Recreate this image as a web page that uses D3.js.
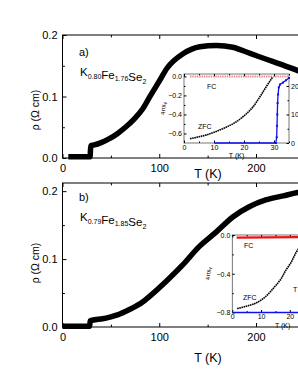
<!DOCTYPE html>
<html>
<head>
<meta charset="utf-8">
<script src="https://cdn.jsdelivr.net/npm/d3@7"></script>
<style>
  body { margin: 0; background: #fff; }
  svg { display: block; font-family: "Liberation Sans", Arial, sans-serif; }
  .axis text { fill: #000; }
  .axis line { stroke: #000; }
</style>
</head>
<body>
<svg width="298" height="385"></svg>
<script>
"use strict";

// panel a: K0.80Fe1.76Se2, resistivity vs T
var tempA = [6, 15, 25, 28.5, 29.2, 32, 40, 48, 57, 65, 75, 83, 90, 100, 108, 125, 142, 159, 176, 194, 210, 228, 245, 270, 300];
var rhoA = [0.002, 0.002, 0.002, 0.002, 0.020, 0.021, 0.025, 0.031, 0.040, 0.050, 0.065, 0.080, 0.099, 0.125, 0.146, 0.170, 0.181, 0.183, 0.180, 0.170, 0.161, 0.151, 0.141, 0.128, 0.115];

// panel b: K0.79Fe1.85Se2
var tempB = [0, 10, 20, 28, 28.7, 35, 45, 55, 65, 75, 85, 90, 107, 124, 141, 159, 176, 193, 210, 228, 243, 270, 300];
var rhoB = [0.001, 0.001, 0.001, 0.001, 0.009, 0.011, 0.013, 0.017, 0.023, 0.030, 0.039, 0.045, 0.067, 0.091, 0.118, 0.140, 0.162, 0.177, 0.187, 0.193, 0.198, 0.203, 0.207];

// inset a: susceptibility (left) and resistivity (right)
var zfcTA = [2, 5, 8, 11, 14, 17, 20, 23, 26, 28, 29.5];
var zfcA = [-0.655, -0.635, -0.61, -0.575, -0.535, -0.485, -0.415, -0.32, -0.18, -0.08, -0.01];
var fcTA = [2, 35];
var fcA = [0, 0];
var resTA = [10, 20, 30.6, 30.9, 31.0, 31.1, 31.2, 31.35, 31.6, 32, 33, 34, 35];
var resA = [0, 0, 0, 2, 6, 10, 14, 17, 19.5, 20.5, 21.2, 22, 22.8];

// inset b
var zfcTB = [1.7, 4.9, 8.4, 11.8, 14.7, 17, 18.7, 20.5, 22, 24, 26];
var zfcB = [-0.76, -0.735, -0.70, -0.63, -0.535, -0.45, -0.36, -0.28, -0.19, -0.10, -0.03];
var fcTB = [1.5, 35];
var fcB = [-0.027, -0.02];
var resTB = [0.5, 35];
var resB = [0, 0];

var xTicks = [0, 100, 200, 300], xMinor = [50, 150, 250];
var yTicks = [0, 0.1, 0.2], yMinor = [0.05, 0.15];

var svg = d3.select("svg");

function zip(xs, ys) {
    return xs.map(function (x, i) { return [x, ys[i]]; });
}

function axisPair(g, axisFn, scale, major, minor, size, fmt, pad, fontSize, transform) {
    var a = g.append("g").attr("class", "axis").attr("transform", transform)
        .call(axisFn(scale).tickValues(major).tickSize(-size).tickPadding(pad)
            .tickFormat(fmt));
    a.select(".domain").remove();
    a.selectAll("text").style("font-size", fontSize + "px");
    var m = g.append("g").attr("class", "axis").attr("transform", transform)
        .call(axisFn(scale).tickValues(minor).tickSize(-size * 0.6).tickFormat(""));
    m.select(".domain").remove();
    return a;
}

function drawPanel(cfg) {
    var x = d3.scaleLinear().domain([0, 300]).range([62.5, 352.75]);
    var y = d3.scaleLinear().domain(cfg.yDomain).range([cfg.bottom, cfg.top]);
    var g = svg.append("g");

    // frame
    g.append("rect").attr("x", x(0)).attr("y", cfg.top)
        .attr("width", x(300) - x(0)).attr("height", cfg.bottom - cfg.top)
        .attr("fill", "none").attr("stroke", "#000").attr("stroke-width", 1);

    axisPair(g, d3.axisBottom, x, xTicks, xMinor, 4, d3.format("d"), 6, 11,
        "translate(0," + cfg.bottom + ")");
    axisPair(g, d3.axisTop, x, xTicks, xMinor, 4, function () { return ""; }, 0, 11,
        "translate(0," + cfg.top + ")");
    axisPair(g, d3.axisLeft, y, yTicks, yMinor, 4, d3.format(".1f"), 5, 11,
        "translate(" + x(0) + ",0)");

    g.append("path")
        .datum(zip(cfg.temp, cfg.rho))
        .attr("fill", "none").attr("stroke", "#000").attr("stroke-width", 5.5)
        .attr("stroke-linejoin", "round")
        .attr("d", d3.line().curve(d3.curveMonotoneX)
            .x(function (d) { return x(d[0]); })
            .y(function (d) { return y(d[1]); }));

    g.append("text").attr("x", 208).attr("y", cfg.xLabelY)
        .attr("text-anchor", "middle").style("font-size", "12.5px").text("T (K)");
    g.append("text")
        .attr("transform", "translate(" + 39 + "," + cfg.yLabelY + ") rotate(-90)")
        .attr("text-anchor", "middle").style("font-size", "10.5px").text("ρ (Ω cm)");

    g.append("text").attr("x", 79).attr("y", cfg.tagY).style("font-size", "11px").text(cfg.tag);
    var f = g.append("text").attr("x", 80).attr("y", cfg.tagY + 20).style("font-size", "11.5px");
    cfg.formula.forEach(function (p) {
        f.append("tspan").text(p[0]);
        f.append("tspan").attr("dy", 2.5).style("font-size", "7px").text(p[1]);
        f.append("tspan").attr("dy", -2.5).text("");
    });
    return g;
}

function drawInset(cfg) {
    var g = svg.append("g");
    var x = d3.scaleLinear().domain([0, 35]).range([cfg.left, cfg.right]);
    var y = d3.scaleLinear().domain(cfg.yDomain).range([cfg.bottom, cfg.top]);
    var yR = d3.scaleLinear().domain(cfg.rDomain).range([cfg.bottom, cfg.top]);

    g.append("rect").attr("x", cfg.left).attr("y", cfg.top)
        .attr("width", cfg.right - cfg.left).attr("height", cfg.bottom - cfg.top)
        .attr("fill", "#fff").attr("stroke", "#555").attr("stroke-width", 0.8);

    var fmt = function (d) { return d === 0 ? "0.0" : d3.format(".1f")(d); };
    axisPair(g, d3.axisBottom, x, [0, 10, 20, 30], [5, 15, 25, 35], 2.5, d3.format("d"), 2, 7,
        "translate(0," + cfg.bottom + ")");
    axisPair(g, d3.axisTop, x, [0, 10, 20, 30], [5, 15, 25, 35], 2.5, function () { return ""; }, 0, 7,
        "translate(0," + cfg.top + ")");
    axisPair(g, d3.axisLeft, y, cfg.yTicks, cfg.yMinor, 2.5, fmt, 2, 7,
        "translate(" + cfg.left + ",0)");
    axisPair(g, d3.axisRight, yR, [0, 10, 20], [5, 15], 2.5, d3.format("d"), 2, 7,
        "translate(" + cfg.right + ",0)");
    g.selectAll(".axis line").attr("stroke", "#555");

    var line = function (sc) {
        return d3.line().x(function (d) { return x(d[0]); }).y(function (d) { return sc(d[1]); });
    };

    g.append("path").datum(zip(cfg.fcT, cfg.fc))
        .attr("fill", "none").attr("stroke", cfg.fcColor).attr("stroke-width", cfg.fcWidth)
        .attr("stroke-dasharray", cfg.fcDash).attr("d", line(y));
    g.append("path").datum(zip(cfg.resT, cfg.res))
        .attr("fill", "none").attr("stroke", "#1010ee").attr("stroke-width", 1.3)
        .attr("d", line(yR));
    if (cfg.resMarks) {
        g.selectAll(".rm").data(zip(cfg.resT, cfg.res).slice(2)).enter().append("rect")
            .attr("x", function (d) { return x(d[0]) - 1; })
            .attr("y", function (d) { return yR(d[1]) - 1; })
            .attr("width", 2).attr("height", 2).attr("fill", "#1010ee");
    }
    g.append("path").datum(zip(cfg.zfcT, cfg.zfc))
        .attr("fill", "none").attr("stroke", "#000").attr("stroke-width", 1.6)
        .attr("stroke-dasharray", "1.6,0.6")
        .attr("d", d3.line().curve(d3.curveMonotoneX)
            .x(function (d) { return x(d[0]); }).y(function (d) { return y(d[1]); }));

    g.append("text").attr("x", cfg.fcPos[0]).attr("y", cfg.fcPos[1])
        .style("font-size", "7px").text("FC");
    g.append("text").attr("x", cfg.zfcPos[0]).attr("y", cfg.zfcPos[1])
        .style("font-size", "7px").text("ZFC");
    g.append("text").attr("x", x(cfg.tLabelT)).attr("y", cfg.bottom + 15)
        .attr("text-anchor", "middle").style("font-size", "7px").text("T (K)");
    var yl = g.append("text")
        .attr("transform", "translate(" + cfg.yLabelX + "," + ((cfg.top + cfg.bottom) / 2) + ") rotate(-90)")
        .attr("text-anchor", "middle").style("font-size", "6px");
    yl.append("tspan").text("4πχ");
    yl.append("tspan").attr("dy", 1.5).style("font-size", "4.5px").text("v");
    return g;
}

drawPanel({ top: 35, bottom: 158, yDomain: [0, 0.2], temp: tempA, rho: rhoA,
    xLabelY: 178, yLabelY: 110, tag: "a)", tagY: 56,
    formula: [["K", "0.80"], ["Fe", "1.76"], ["Se", "2"]] });
drawPanel({ top: 183, bottom: 327, yDomain: [0, 0.212], temp: tempB, rho: rhoB,
    xLabelY: 362, yLabelY: 263, tag: "b)", tagY: 201,
    formula: [["K", "0.79"], ["Fe", "1.85"], ["Se", "2"]] });

drawInset({ left: 184, right: 289, top: 74, bottom: 143,
    yDomain: [-0.7, 0.025], rDomain: [0, 24.2],
    yTicks: [0, -0.2, -0.4, -0.6], yMinor: [-0.1, -0.3, -0.5],
    zfcT: zfcTA, zfc: zfcA, fcT: fcTA, fc: fcA, resT: resTA, res: resA, resMarks: true,
    fcColor: "#f08a8a", fcWidth: 2, fcDash: "1.5,0.8",
    fcPos: [207, 89], zfcPos: [198, 129], tLabelT: 17.5, yLabelX: 165 });
drawInset({ left: 232.3, right: 333, top: 235, bottom: 312.5,
    yDomain: [-0.8, 0], rDomain: [0, 24],
    yTicks: [0, -0.4, -0.8], yMinor: [-0.2, -0.6],
    zfcT: zfcTB, zfc: zfcB, fcT: fcTB, fc: fcB, resT: resTB, res: resB, resMarks: false,
    fcColor: "#ee1111", fcWidth: 2.2, fcDash: null,
    fcPos: [244, 248], zfcPos: [243, 300], tLabelT: 17.5, yLabelX: 210 });

svg.append("text").attr("x", 293).attr("y", 292).style("font-size", "7px").text("T");
</script>
</body>
</html>
